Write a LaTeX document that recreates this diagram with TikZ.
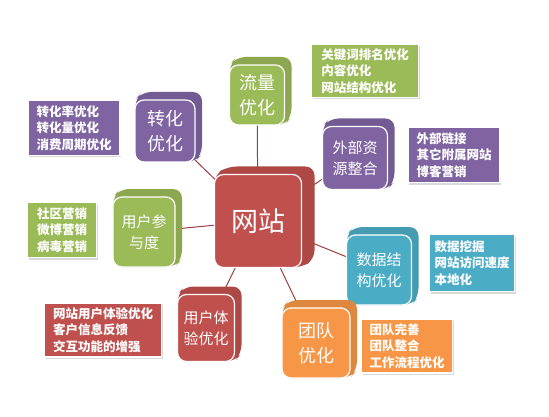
\documentclass[tikz,border=0pt]{standalone}
\usepackage{fontspec}
\newfontfamily\cjk{Noto Sans CJK SC}
\usetikzlibrary{shadows,backgrounds}

\definecolor{ogreen}{HTML}{9BBB59}
\definecolor{opurple}{HTML}{8064A2}
\definecolor{oteal}{HTML}{4BACC6}
\definecolor{oorange}{HTML}{F79646}
\definecolor{ored}{HTML}{C0504D}

\tikzset{
  block/.style={rectangle, rounded corners=9pt, draw=white, line width=1.2pt, text=white, align=center},
  lab/.style={font=\cjk\fontsize{18}{25}\selectfont},
  labs/.style={font=\cjk\fontsize{15}{21}\selectfont},
  labl/.style={font=\cjk\fontsize{27}{30}\selectfont},
  note/.style={rectangle, draw=white, line width=1.5pt, text=white, align=left,
    font=\cjk\bfseries\fontsize{12.5}{16.5}\selectfont,
    drop shadow={shadow xshift=1pt, shadow yshift=-2pt, opacity=.3}},
}

\begin{document}
\begin{tikzpicture}[
  x=1pt, y=-1pt,
  link/.style={draw=ored!80!black, line width=1pt},
  ]

  \useasboundingbox (0,0) rectangle (549,417);

  \foreach \nm/\x/\y/\w/\h/\dx/\col/\lab/\txt in {
    web/258/221/87/93/13/ored/labl/{网站},
    flow/257/95/55/60/7/ogreen/lab/{流量\\优化},
    conv/165/131/60/62/7/opurple/lab/{转化\\优化},
    ext/355/158/65/63/7/opurple/labs/{外部资\\源整合},
    data/379/270/65/70/7/oteal/labs/{数据结\\构优化},
    user/144/232/62/70/7/ogreen/labs/{用户参\\与度},
    ux/206/328/57/67/7/ored/labs/{用户体\\验优化},
    team/316/343/68/70/7/oorange/lab/{团队\\优化}}{
    % extruded back
    \fill[\col!90!black, rounded corners=9pt]
      (\x-\w/2,\y+\h/2) -- (\x-\w/2,\y-\h/2) -- (\x-\w/2+\dx,\y-\h/2-8)
      -- (\x+\w/2+\dx,\y-\h/2-8) -- (\x+\w/2+\dx,\y+\h/2-8) -- (\x+\w/2,\y+\h/2) -- cycle;
    \node[block, \lab, fill=\col, minimum width=\w pt, minimum height=\h pt] (\nm) at (\x,\y) {\txt};
  }

  \begin{scope}[on background layer]
    \foreach \nm in {flow,conv,ext,data,user,ux,team}
      \draw[link] (web.center) -- (\nm.center);
  \end{scope}

  % notes
  \node[note, fill=ogreen, minimum width=107pt, minimum height=53pt] (flownote) at (365,71) {关键词排名优化\\内容优化\\网站结构优化};
  \node[note, fill=opurple, minimum width=92pt, minimum height=55pt] (convnote) at (74,128) {转化率优化\\转化量优化\\消费周期优化};
  \node[note, fill=opurple, minimum width=92pt, minimum height=55pt] (extnote) at (454,155) {外部链接\\其它附属网站\\博客营销};
  \node[note, fill=oteal, minimum width=85pt, minimum height=57pt] (datanote) at (472,263) {数据挖掘\\网站访问速度\\本地化};
  \node[note, fill=ogreen, minimum width=69pt, minimum height=55pt] (usernote) at (62,230) {社区营销\\微博营销\\病毒营销};
  \node[note, fill=ored, minimum width=117pt, minimum height=54pt] (uxnote) at (103,330) {网站用户体验优化\\客户信息反馈\\交互功能的增强};
  \node[note, fill=oorange, minimum width=91pt, minimum height=54pt] (teamnote) at (407,346) {团队完善\\团队整合\\工作流程优化};

\end{tikzpicture}
\end{document}
